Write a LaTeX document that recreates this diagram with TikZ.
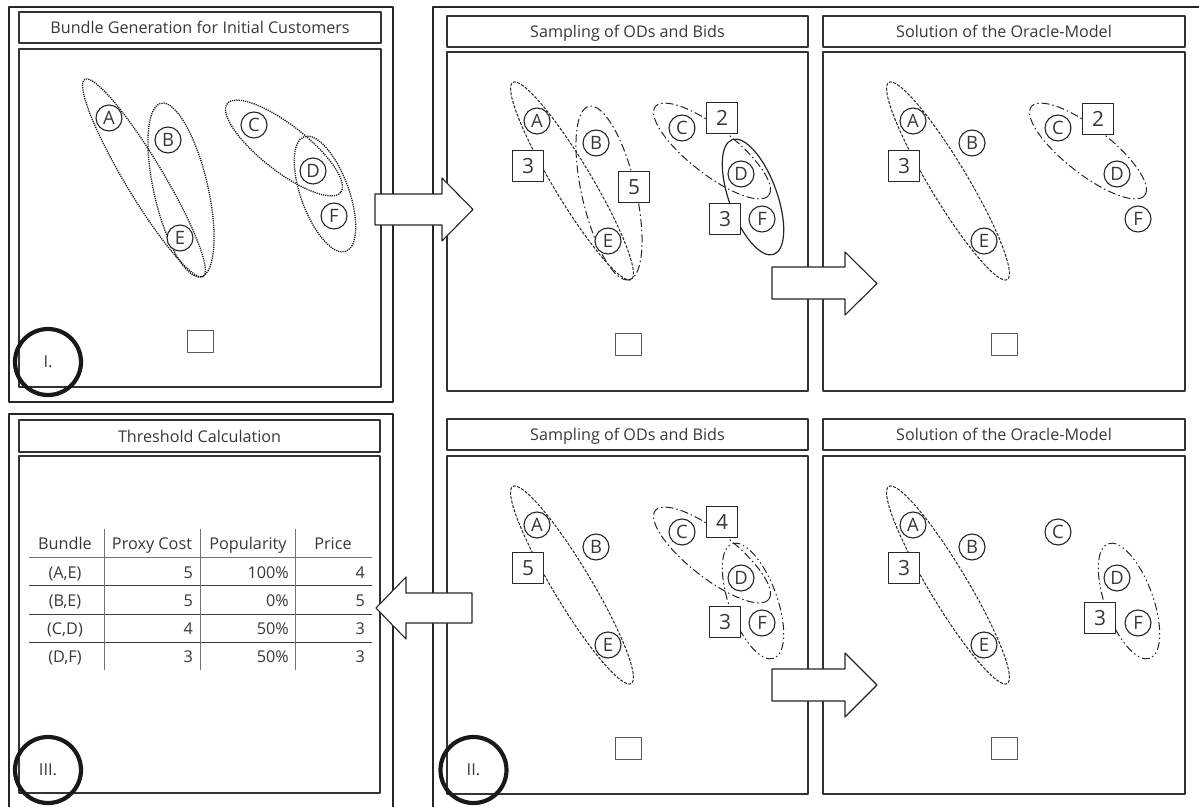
\documentclass[tikz,border=0pt]{standalone}
\usepackage{fontspec}
\setmainfont{Open Sans}
\begin{document}
\begin{tikzpicture}[x=1bp,y=-1bp,line join=round,
  outerframe/.style={line width=2bp, draw=black!85},
  pbox/.style={line width=1.3bp, draw=black!80},
  ttl/.style={anchor=base, font=\fontsize{16.2}{19}\selectfont, text=black!78, inner sep=0},
  cust/.style={circle, draw=black!85, line width=1.1bp, fill=white, minimum size=26bp, inner sep=0, font=\fontsize{18.5}{21}\selectfont, text=black!78},
  bid/.style={rectangle, draw=black!85, line width=1.1bp, fill=white, minimum size=31bp, inner sep=0, font=\fontsize{21}{24}\selectfont, text=black!78},
  emptybox/.style={rectangle, draw=black!65, line width=0.9bp, minimum width=26bp, minimum height=22bp, inner sep=0},
  stage/.style={circle, draw=black!90, line width=4.2bp, minimum size=66bp, inner sep=0, font=\fontsize{16.5}{19}\selectfont, text=black!78},
  blk/.style={draw=black!85, line width=1.1bp, fill=white},
  ellDot/.style={dash pattern=on 1.2bp off 1bp, line width=1.3bp, draw=black!90},
  ellDash/.style={dash pattern=on 3bp off 1.5bp, line width=1bp, draw=black!85},
  ellDD/.style={dash pattern=on 8bp off 3bp on 1.5bp off 3bp, line width=1bp, draw=black!85},
  ellDDD/.style={dash pattern=on 8bp off 3bp on 1.5bp off 3bp on 1.5bp off 3bp, line width=1bp, draw=black!85},
  ellSolid/.style={solid, line width=1.2bp, draw=black!85},
  tcell/.style={font=\fontsize{16.3}{19}\selectfont, text=black!78, inner sep=0},
  tline/.style={line width=1bp, draw=black!75},
  tvline/.style={line width=1bp, draw=black!55}
]
\useasboundingbox (0,0) rectangle (1199,807);

% ---------- macros ----------
\newcommand\ellAE[1]{\begin{scope}[shift={(125,129)},rotate=-59]\draw[#1] (0,0) ellipse [x radius=115, y radius=19];\end{scope}}
\newcommand\ellBE[1]{\begin{scope}[shift={(162,141)},rotate=-77]\draw[#1] (0,0) ellipse [x radius=89, y radius=27];\end{scope}}
\newcommand\ellCD[1]{\begin{scope}[shift={(265,99)},rotate=-38]\draw[#1] (0,0) ellipse [x radius=72, y radius=23];\end{scope}}
\newcommand\ellDF[1]{\begin{scope}[shift={(306,145)},rotate=-70]\draw[#1] (0,0) ellipse [x radius=61, y radius=24];\end{scope}}
\newcommand\custs[1]{%
  \node[cust] (#1A) at (90,69) {A};
  \node[cust] (#1B) at (149,91) {B};
  \node[cust] (#1C) at (235,76) {C};
  \node[cust] (#1D) at (294,122) {D};
  \node[cust] (#1E) at (161,189) {E};
  \node[cust] (#1F) at (315,167) {F};
  \node[emptybox] (#1Q) at (181,292) {};}

% ---------- frames ----------
\draw[outerframe] (9,7) rectangle (393,402);
\draw[outerframe] (9,812) -- (9,414) -- (393,414) -- (393,812);
\draw[outerframe] (433,812) -- (433,7) -- (1204,7);

% panel I
\draw[pbox] (19,12) rectangle (381,43);
\node[ttl] (t1) at (200,33.5) {Bundle Generation for Initial Customers};
\draw[pbox] (19,49) rectangle (381,387);
% panel III
\draw[pbox] (19,420) rectangle (380,452);
\node[ttl] (t3) at (199.5,442) {Threshold Calculation};
\draw[pbox] (19,456) rectangle (380,793);
% panel II boxes
\draw[pbox] (447,16) rectangle (808,47);
\node[ttl] (t2a) at (627.5,37.5) {Sampling of ODs and Bids};
\draw[pbox] (447,52) rectangle (808,391);
\draw[pbox] (823,16) rectangle (1185,47);
\node[ttl] (t2b) at (1004,37.5) {Solution of the Oracle-Model};
\draw[pbox] (823,52) rectangle (1185,391);
\draw[pbox] (447,419) rectangle (808,450);
\node[ttl] (t2c) at (627.5,440.5) {Sampling of ODs and Bids};
\draw[pbox] (447,456) rectangle (808,794);
\draw[pbox] (823,419) rectangle (1185,450);
\node[ttl] (t2d) at (1004,440.5) {Solution of the Oracle-Model};
\draw[pbox] (823,456) rectangle (1185,794);

% ---------- panel I content ----------
\begin{scope}[shift={(19,49)}]
  \ellAE{ellDot}\ellBE{ellDot}\ellCD{ellDot}\ellDF{ellDot}
  \custs{p}
\end{scope}

% ---------- top sampling ----------
\begin{scope}[shift={(447,52)}]
  \ellAE{ellDash}\ellBE{ellDD}\ellCD{ellDD}\ellDF{ellSolid}
  \node[bid] (sa3) at (81,114) {3};
  \node[bid] (sa5) at (187,135) {5};
  \node[bid] (sa2) at (275,66) {2};
  \node[bid] (sa3b) at (278,167) {3};
  \custs{sa}
\end{scope}

% ---------- top solution ----------
\begin{scope}[shift={(823,52)}]
  \ellAE{ellDash}\ellCD{ellDD}
  \node[bid] (so3) at (81,114) {3};
  \node[bid] (so2) at (275,67) {2};
  \custs{so}
\end{scope}

% ---------- bottom sampling ----------
\begin{scope}[shift={(447,456)}]
  \ellAE{ellDash}\ellCD{ellDD}\ellDF{ellDDD}
  \node[bid] (sb5) at (81,112) {5};
  \node[bid] (sb4) at (275,66) {4};
  \node[bid] (sb3) at (278,166) {3};
  \custs{sb}
\end{scope}

% ---------- bottom solution ----------
\begin{scope}[shift={(823,456)}]
  \ellAE{ellDash}\ellDF{ellDDD}
  \node[bid] (sc3) at (81,112) {3};
  \node[bid] (sc3b) at (277,162) {3};
  \custs{sc}
\end{scope}

% ---------- table ----------
\node[tcell, anchor=base] (hB) at (65,549) {Bundle};
\node[tcell, anchor=base] (hP) at (152,549) {Proxy Cost};
\node[tcell, anchor=base] (hPo) at (248,549) {Popularity};
\node[tcell, anchor=base] (hPr) at (333,549) {Price};
\foreach \yy/\bb/\pc/\pp/\pr in {578/{(A,E)}/5/100\%/4, 606/{(B,E)}/5/0\%/5, 634/{(C,D)}/4/50\%/3, 662/{(D,F)}/3/50\%/3}{
  \node[tcell, anchor=base] (rb\yy) at (65,\yy) {\bb};
  \node[tcell, anchor=base east] (rc\yy) at (193,\yy) {\pc};
  \node[tcell, anchor=base east] (rp\yy) at (289,\yy) {\pp};
  \node[tcell, anchor=base east] (rr\yy) at (365,\yy) {\pr};
}
\draw[tvline] (29,557) -- (372,557);
\draw[tline] (29,585) -- (372,585);
\draw[tline] (29,614) -- (372,614);
\draw[tline] (29,642) -- (372,642);
\draw[tvline] (104,529) -- (104,670);
\draw[tvline] (200,529) -- (200,670);
\draw[tvline] (295,529) -- (295,670);

% ---------- stage circles ----------
\node[stage] (sI) at (48,362) {I.};
\node[stage] (sIII) at (48,770) {III.};
\node[stage] (sII) at (473.5,770) {II.};

% ---------- block arrows ----------
\draw[blk] (375,194) -- (442,194) -- (442,178) -- (473,209.5) -- (442,241) -- (442,225) -- (375,225) -- cycle;
\draw[blk] (772,267) -- (845,267) -- (845,252) -- (877,283.5) -- (845,315) -- (845,299) -- (772,299) -- cycle;
\draw[blk] (772,669) -- (845,669) -- (845,653) -- (877,685) -- (845,717) -- (845,701) -- (772,701) -- cycle;
\draw[blk] (472,593) -- (406,593) -- (406,577) -- (376,608) -- (406,639) -- (406,623) -- (472,623) -- cycle;
\end{tikzpicture}
\end{document}
